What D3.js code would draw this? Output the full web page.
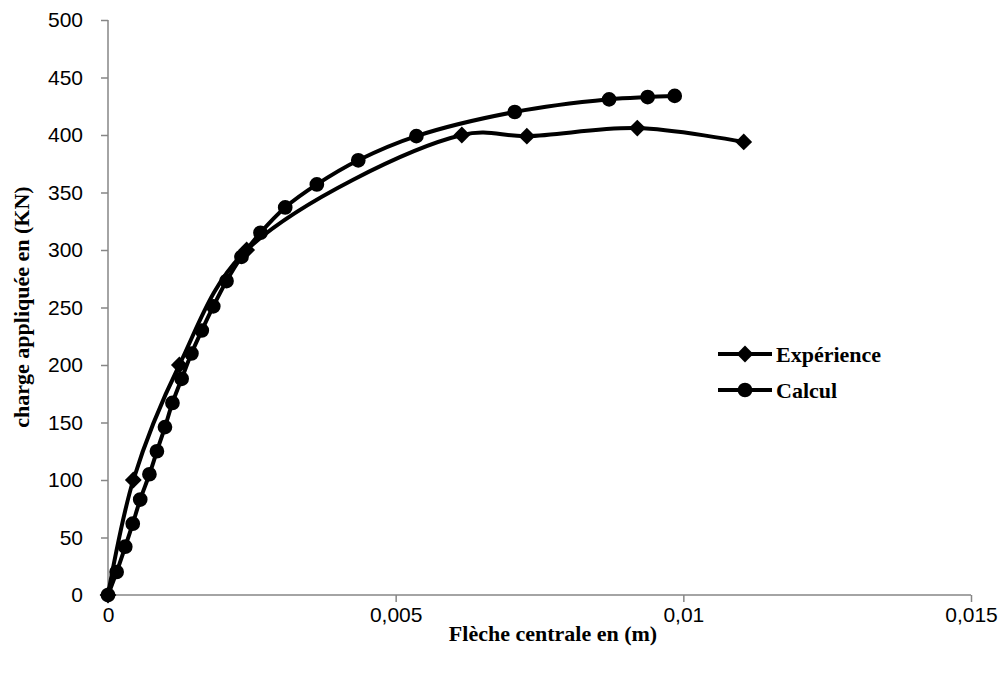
<!DOCTYPE html>
<html>
<head>
<meta charset="utf-8">
<script src="https://cdn.jsdelivr.net/npm/d3@7/dist/d3.min.js"></script>
<style>
  html, body { margin: 0; padding: 0; background: #fff; }
  svg { display: block; }
</style>
</head>
<body>
<svg id="chart" width="1005" height="673"></svg>
<script>
// Deflection (m) / load (kN) — measured
const expDeflection = [0, 0.00044, 0.00124, 0.00241, 0.00615, 0.00728, 0.0092, 0.01105];
const expLoad       = [0, 100, 200, 300, 400, 399, 406, 394];

// Deflection (m) / load (kN) — computed
const calcDeflection = [0, 0.00015, 0.0003, 0.00043, 0.00056, 0.00072, 0.00085, 0.00099, 0.00112,
  0.00128, 0.00145, 0.00163, 0.00183, 0.00206, 0.00232, 0.00265, 0.00308, 0.00363, 0.00435,
  0.00536, 0.00707, 0.00871, 0.00938, 0.00985];
const calcLoad = [0, 20, 42, 62, 83, 105, 125, 146, 167, 188, 210, 230, 251, 273, 294, 315, 337,
  357, 378, 399, 420, 431, 433, 434];

const xTicks = [0, 0.005, 0.01, 0.015];
const xTickLabels = ["0", "0,005", "0,01", "0,015"];
const yTicks = [0, 50, 100, 150, 200, 250, 300, 350, 400, 450, 500];

const seriesNames = ["Expérience", "Calcul"];
const xTitle = "Flèche centrale en (m)";
const yTitle = "charge appliquée en (KN)";

const svg = d3.select("#chart");
const plot = { left: 108, right: 971, top: 20, bottom: 595 };

const x = d3.scaleLinear().domain([0, 0.015]).range([plot.left, plot.right]);
const y = d3.scaleLinear().domain([0, 500]).range([plot.bottom, plot.top]);

const axisColor = "#868686";
const tickFont = "'Liberation Sans', Arial, sans-serif";
const titleFont = "'Liberation Serif', 'Times New Roman', serif";

// Y axis
const yAxis = svg.append("g")
  .attr("transform", `translate(${plot.left},0)`)
  .call(d3.axisLeft(y).tickValues(yTicks).tickSize(7).tickPadding(18).tickFormat(d3.format("d")));
yAxis.select(".domain").attr("stroke", axisColor).attr("stroke-width", 1.5).attr("d", `M0,${plot.top}V${plot.bottom}`);
yAxis.selectAll(".tick line").attr("stroke", axisColor).attr("stroke-width", 1.5);
yAxis.selectAll(".tick text").attr("fill", "#000").style("font-family", tickFont).style("font-size", "21px");

// X axis
const xAxis = svg.append("g")
  .attr("transform", `translate(0,${plot.bottom})`)
  .call(d3.axisBottom(x).tickValues(xTicks).tickSize(7).tickPadding(5)
    .tickFormat((d, i) => xTickLabels[i]));
xAxis.select(".domain").attr("stroke", axisColor).attr("stroke-width", 1.5).attr("d", `M${plot.left},0H${plot.right}`);
xAxis.selectAll(".tick line").attr("stroke", axisColor).attr("stroke-width", 1.5);
xAxis.selectAll(".tick text").attr("fill", "#000").style("font-family", tickFont).style("font-size", "21px");

// Axis titles
svg.append("text")
  .attr("x", 553).attr("y", 641)
  .attr("text-anchor", "middle")
  .style("font-family", titleFont).style("font-weight", "bold").style("font-size", "22px")
  .text(xTitle);

svg.append("text")
  .attr("transform", "translate(29,307) rotate(-90)")
  .attr("text-anchor", "middle")
  .style("font-family", titleFont).style("font-weight", "bold").style("font-size", "22px")
  .text(yTitle);

// Series
const expPts = expDeflection.map((d, i) => [d, expLoad[i]]);
const calcPts = calcDeflection.map((d, i) => [d, calcLoad[i]]);

const line = d3.line()
  .x(d => x(d[0])).y(d => y(d[1]))
  .curve(d3.curveCatmullRom.alpha(0.5));

const diamond = d3.symbol().type(d3.symbolDiamond2).size(180);
const circle = d3.symbol().type(d3.symbolCircle).size(170);

const g = svg.append("g");
g.append("path").datum(expPts)
  .attr("d", line).attr("fill", "none").attr("stroke", "#000").attr("stroke-width", 4);
g.append("path").datum(calcPts)
  .attr("d", line).attr("fill", "none").attr("stroke", "#000").attr("stroke-width", 4);

g.selectAll(".m-exp").data(expPts).join("path")
  .attr("class", "m-exp")
  .attr("transform", d => `translate(${x(d[0])},${y(d[1])})`)
  .attr("d", diamond).attr("fill", "#000");
g.selectAll(".m-calc").data(calcPts).join("path")
  .attr("class", "m-calc")
  .attr("transform", d => `translate(${x(d[0])},${y(d[1])})`)
  .attr("d", circle).attr("fill", "#000");

// Legend
const legend = svg.append("g").attr("transform", "translate(718,354)");
const shapes = [diamond, circle];
seriesNames.forEach((name, i) => {
  const row = legend.append("g").attr("transform", `translate(0,${i * 36})`);
  row.append("line").attr("x1", 0).attr("x2", 54).attr("y1", 0).attr("y2", 0)
    .attr("stroke", "#000").attr("stroke-width", 4);
  row.append("path").attr("transform", "translate(27,0)").attr("d", shapes[i]).attr("fill", "#000");
  row.append("text").attr("x", 58).attr("y", 0).attr("dy", "0.35em")
    .style("font-family", titleFont).style("font-weight", "bold").style("font-size", "22px")
    .text(name);
});
</script>
</body>
</html>
